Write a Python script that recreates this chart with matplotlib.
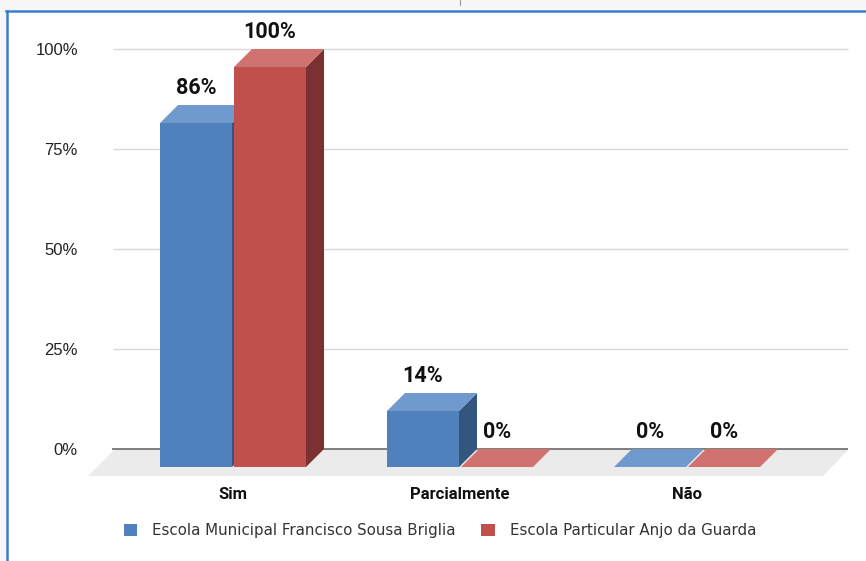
import matplotlib
matplotlib.use("Agg")
import matplotlib.pyplot as plt
from matplotlib.patches import Polygon, Rectangle, Patch
from matplotlib.lines import Line2D

# ---- data ----
categories = ["Sim", "Parcialmente", "Não"]
series_names = ["Escola Municipal Francisco Sousa Briglia", "Escola Particular Anjo da Guarda"]
municipal = [86, 14, 0]
particular = [100, 0, 0]
yticks = [0, 25, 50, 75, 100]
ytick_labels = ["0%", "25%", "50%", "75%", "100%"]

# ---- styles ----
BLUE = dict(front="#4F81BD", top="#7099CE", side="#34557E")
RED = dict(front="#C0504D", top="#D0726F", side="#7B3131")
FLOOR = "#EBEBEB"
GRID = "#D9D9D9"

W, H = 866, 561
fig = plt.figure(figsize=(W / 100, H / 100), dpi=100)
fig.patch.set_facecolor("white")

# frame decorations
fig.patches.append(Rectangle((0, 1 - 10 / H), 1, 10 / H, transform=fig.transFigure,
                             facecolor="#F7F7F7", edgecolor="none", zorder=0))
fig.patches.append(Rectangle((0, 0), 5.5 / W, 1, transform=fig.transFigure,
                             facecolor="#F7F7F7", edgecolor="none", zorder=0))
fig.lines.append(Line2D([6 / W, 1], [1 - 11 / H, 1 - 11 / H], transform=fig.transFigure,
                        color="#3A7DCF", lw=1.8))
fig.lines.append(Line2D([6.5 / W, 6.5 / W], [0, 1 - 11 / H], transform=fig.transFigure,
                        color="#3A7DCF", lw=1.8))
fig.lines.append(Line2D([460 / W, 460 / W], [1, 1 - 5 / H], transform=fig.transFigure,
                        color="#9A9A9A", lw=0.8))

# axes: x unit = category spacing (227 px), y unit = percent (4 px)
L, R, T, B = 80, 860, 20, 484
X0, SX = 233, 227.0
Y0, SY = 449, 4.0
ax = fig.add_axes([L / W, (H - B) / H, (R - L) / W, (B - T) / H])
ax.set_xlim((L - X0) / SX, (R - X0) / SX)
ax.set_ylim(-(B - Y0) / SY, (Y0 - T) / SY)
ax.set_facecolor("none")
for s in ax.spines.values():
    s.set_visible(False)

px = 1 / SX          # one pixel in x data units
py = 1 / SY          # one pixel in y data units
bw = 72 * px
dx = 18 * px
dy = 18 * py

def xp(p):
    return (p - X0) / SX

# floor
ax.add_patch(Polygon([(xp(115), 0), (xp(849), 0), (xp(823), -27 * py), (xp(88), -27 * py)],
                     closed=True, facecolor=FLOOR, edgecolor="none", zorder=1))
# gridlines
ax.hlines(yticks[1:], xp(113), xp(848), color=GRID, lw=1.0, zorder=1.5)
ax.hlines(0, xp(112), xp(848), color="#6A6A6A", lw=1.2, zorder=2)

def bar3d(xl, v, col, z):
    yb = -dy
    yt = v - dy
    if v > 0:
        ax.add_patch(Polygon([(xl, yb), (xl + bw, yb), (xl + bw, yt), (xl, yt)],
                             closed=True, facecolor=col["front"], edgecolor="none", zorder=z))
        ax.add_patch(Polygon([(xl + bw, yb), (xl + bw + dx, 0), (xl + bw + dx, v), (xl + bw, yt)],
                             closed=True, facecolor=col["side"], edgecolor="none", zorder=z))
    ax.add_patch(Polygon([(xl, yt), (xl + bw, yt), (xl + bw + dx, v), (xl + dx, v)],
                         closed=True, facecolor=col["top"], edgecolor="none", zorder=z))
    ax.text(xl + bw / 2, v + 17 * py, f"{v}%", ha="center", va="center",
            fontsize=15.5, fontweight="bold", family="Roboto", color="#111111", zorder=10)

for i in range(len(categories)):
    bar3d(i - 73 * px, municipal[i], BLUE, 3 + i)
    bar3d(i + 1 * px, particular[i], RED, 3.5 + i)

ax.set_yticks(yticks)
ax.set_yticklabels(ytick_labels, family="Liberation Sans", fontsize=12, color="#222222")
ax.set_xticks(range(len(categories)))
ax.set_xticklabels(categories, family="Roboto", fontweight="bold", fontsize=12, color="#111111")
ax.tick_params(axis="both", length=0)
ax.tick_params(axis="y", pad=1.5)
ax.tick_params(axis="x", pad=2.0)

handles = [Patch(facecolor=BLUE["front"], edgecolor="none"),
           Patch(facecolor=RED["front"], edgecolor="none")]
fig.legend(handles, series_names, loc="center", bbox_to_anchor=(440 / W, (H - 531) / H),
           ncol=2, frameon=False, prop=dict(family="DejaVu Sans", size=10.8),
           handlelength=0.88, handleheight=0.88, handletextpad=1.0, columnspacing=1.7,
           labelcolor="#333333")

fig.savefig("out.png", dpi=100)
